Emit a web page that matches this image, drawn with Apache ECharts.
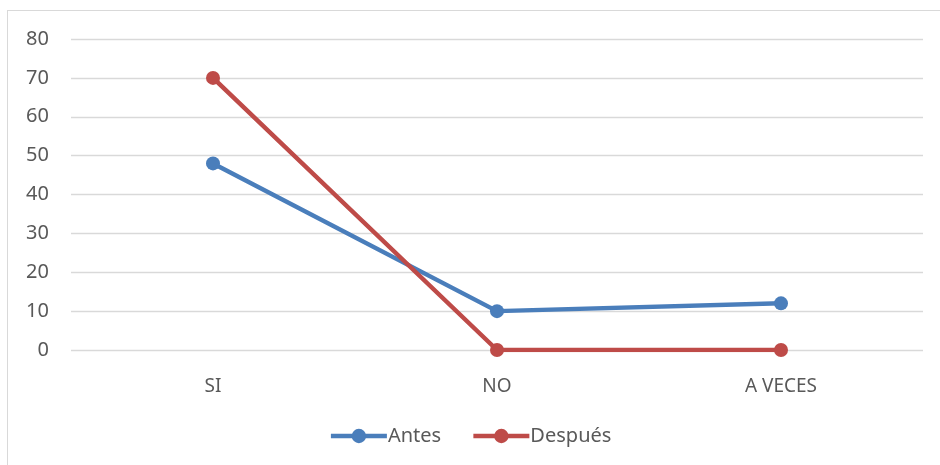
<!DOCTYPE html>
<html>
<head>
<meta charset="utf-8">
<script src="https://cdn.jsdelivr.net/npm/echarts@6/dist/echarts.min.js"></script>
<style>
  html, body { margin: 0; padding: 0; background: #fff; }
  #frame { position: absolute; left: 7px; top: 10px; width: 960px; height: 480px; border: 1px solid #d9d9d9; box-sizing: border-box; }
  #chart { position: absolute; left: 0; top: 0; width: 940px; height: 465px; }
</style>
</head>
<body>
<div id="frame"></div>
<div id="chart"></div>
<script>
const categories = ['SI', 'NO', 'A VECES'];
const antes = [48, 10, 12];
const despues = [70, 0, 0];
const yTicks = { min: 0, max: 80, interval: 10 };

const chart = echarts.init(document.getElementById('chart'), null, { renderer: 'canvas' });
const font = 'Noto Sans, Open Sans, sans-serif';
const textColor = '#595959';
chart.setOption({
  animation: false,
  textStyle: { fontFamily: font },
  grid: { left: 71, right: 17, top: 39, bottom: 115, containLabel: false },
  xAxis: {
    type: 'category',
    data: categories,
    boundaryGap: true,
    axisLine: { show: false },
    axisTick: { show: false },
    axisLabel: { color: textColor, fontSize: 19, fontFamily: font, margin: 27 }
  },
  yAxis: {
    type: 'value',
    min: yTicks.min, max: yTicks.max, interval: yTicks.interval,
    axisLine: { show: false },
    axisTick: { show: false },
    axisLabel: { color: textColor, fontSize: 20, fontFamily: font, margin: 22 },
    splitLine: { lineStyle: { color: '#d9d9d9', width: 1.3 } }
  },
  legend: {
    top: 421,
    left: 'center',
    itemWidth: 56,
    itemHeight: 18,
    itemGap: 30,
    lineStyle: { width: 4.5 },
    textStyle: { color: textColor, fontSize: 20, fontFamily: font, padding: [0, 0, 0, -4] },
    data: ['Antes', 'Después']
  },
  series: [
    {
      name: 'Antes', type: 'line', data: antes,
      color: '#4a7ebb',
      symbol: 'circle', symbolSize: 14,
      lineStyle: { width: 4.5, color: '#4a7ebb' },
      itemStyle: { color: '#4a7ebb' }
    },
    {
      name: 'Después', type: 'line', data: despues,
      color: '#be4b48',
      symbol: 'circle', symbolSize: 14,
      lineStyle: { width: 4.5, color: '#be4b48' },
      itemStyle: { color: '#be4b48' }
    }
  ]
});
</script>
</body>
</html>
